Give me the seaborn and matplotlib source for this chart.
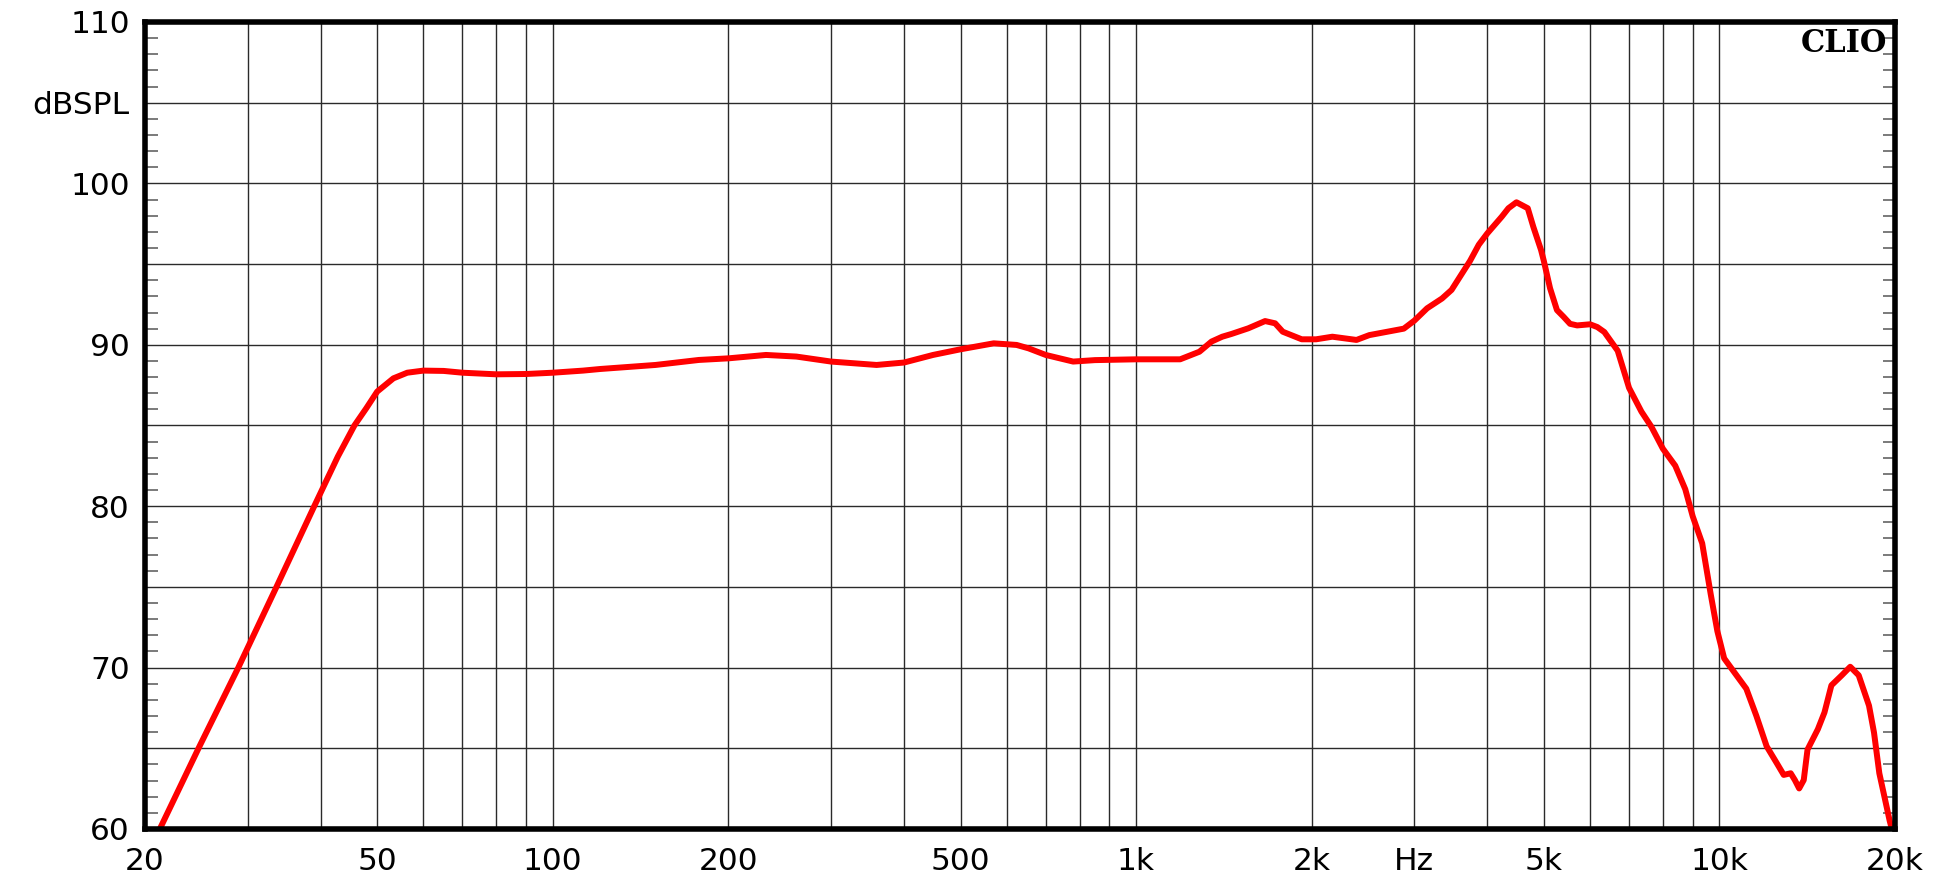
import matplotlib
matplotlib.use("Agg")
import matplotlib.pyplot as plt
from matplotlib.ticker import MultipleLocator, NullLocator
import seaborn as sns

# frequency response (Hz, dB SPL)
freq = [21.2, 24.7, 28.9, 33.6, 39.0, 42.8, 45.7, 47.9, 50.0, 53.3, 56.3,
        60.0, 65.0, 70.0, 80.0, 90.0, 100.0, 112.7, 120.6, 150.0, 178.0,
        200.0, 232.0, 261.6, 300.0, 359.0, 400.0, 448.6, 500.0, 570.0,
        624.0, 654.0, 700.0, 780.0, 850.0, 1000.0, 1190.0, 1284.0, 1347.0,
        1405.0, 1457.0, 1557.0, 1664.0, 1731.0, 1784.0, 1923.0, 2035.0,
        2170.0, 2387.0, 2511.0, 2688.0, 2877.0, 3000.0, 3154.0, 3346.0,
        3474.0, 3737.0, 3868.0, 4000.0, 4236.0, 4348.0, 4488.0, 4693.0,
        4798.0, 4946.0, 5000.0, 5125.0, 5266.0, 5407.0, 5545.0, 5703.0,
        6000.0, 6175.0, 6350.0, 6693.0, 7000.0, 7350.0, 7646.0, 8000.0,
        8400.0, 8739.0, 9000.0, 9343.0, 9662.0, 9920.0, 10190.0, 10540.0,
        11120.0, 11570.0, 12050.0, 12540.0, 12890.0, 13250.0, 13470.0,
        13700.0, 13950.0, 14160.0, 14750.0, 15140.0, 15560.0, 16210.0,
        16760.0, 17330.0, 18050.0, 18410.0, 18800.0, 19580.0, 19850.0]
spl = [60.0, 65.0, 70.0, 75.0, 80.0, 83.07, 85.0, 86.07, 87.1, 87.92, 88.27,
       88.4, 88.38, 88.27, 88.17, 88.19, 88.27, 88.4, 88.5, 88.75, 89.06,
       89.16, 89.37, 89.27, 88.96, 88.75, 88.9, 89.37, 89.72, 90.09,
       89.99, 89.78, 89.37, 88.96, 89.05, 89.1, 89.1, 89.57, 90.2,
       90.5, 90.67, 91.02, 91.47, 91.33, 90.81, 90.34, 90.34,
       90.5, 90.3, 90.6, 90.8, 91.0, 91.5, 92.26, 92.87,
       93.4, 95.2, 96.2, 96.9, 97.94, 98.46, 98.83, 98.46,
       97.3, 95.87, 95.2, 93.5, 92.15, 91.73, 91.3, 91.2,
       91.27, 91.1, 90.79, 89.63, 87.33, 85.86, 84.92, 83.56,
       82.51, 81.05, 79.37, 77.7, 74.55, 72.25, 70.57, 69.84,
       68.69, 67.01, 65.12, 64.08, 63.35, 63.45, 63.03,
       62.51, 63.03, 64.92, 66.18, 67.22, 68.9, 69.52,
       70.05, 69.52, 67.64, 65.97, 63.45, 60.52, 59.7]

x_ticks = [20, 30, 40, 50, 60, 70, 80, 90, 100, 200, 300, 400, 500, 600, 700,
           800, 900, 1000, 2000, 3000, 4000, 5000, 6000, 7000, 8000, 9000,
           10000, 20000]
x_labels = ["20", "", "", "50", "", "", "", "", "100", "200", "", "", "500",
            "", "", "", "", "1k", "2k", "Hz", "", "5k", "", "", "", "",
            "10k", "20k"]
y_ticks = [60, 65, 70, 75, 80, 85, 90, 95, 100, 105, 110]
y_labels = ["60", "", "70", "", "80", "", "90", "", "100", "dBSPL", "110"]

sns.set_style("white")
plt.rcParams["font.family"] = ["DejaVu Sans"]

fig = plt.figure(figsize=(19.42, 8.80), dpi=100)
ax = fig.add_axes([0.0747, 0.058, 0.9011, 0.917])

sns.lineplot(x=freq, y=spl, color="#ff0000", linewidth=4.3, sort=False,
             estimator=None, ax=ax, solid_joinstyle="round",
             solid_capstyle="round")

ax.set_xscale("log")
ax.set_xlim(20, 20000)
ax.set_ylim(60, 110)
ax.set_xticks(x_ticks, x_labels)
ax.xaxis.set_minor_locator(NullLocator())
ax.set_yticks(y_ticks, y_labels)
ax.yaxis.set_minor_locator(MultipleLocator(1))

ax.tick_params(axis="both", which="major", length=0, labelsize=22.5,
               labelcolor="black")
ax.tick_params(axis="y", which="major", pad=11)
ax.tick_params(axis="x", which="major", pad=13)
ax.tick_params(axis="y", which="minor", direction="in", length=9, width=1.3,
               color="#707070", left=True, right=True)

ax.grid(True, which="major", color="#2a2a2a", linewidth=1.0)
ax.set_axisbelow(True)
for s in ax.spines.values():
    s.set_visible(True)
    s.set_color("black")
    s.set_linewidth(4)

ax.text(0.9954, 0.992, "CLIO", transform=ax.transAxes, ha="right", va="top",
        family="DejaVu Serif", fontweight="bold", fontsize=22, color="black")

ax.set_xlabel("")
ax.set_ylabel("")
fig.savefig("out.png", dpi=100)
